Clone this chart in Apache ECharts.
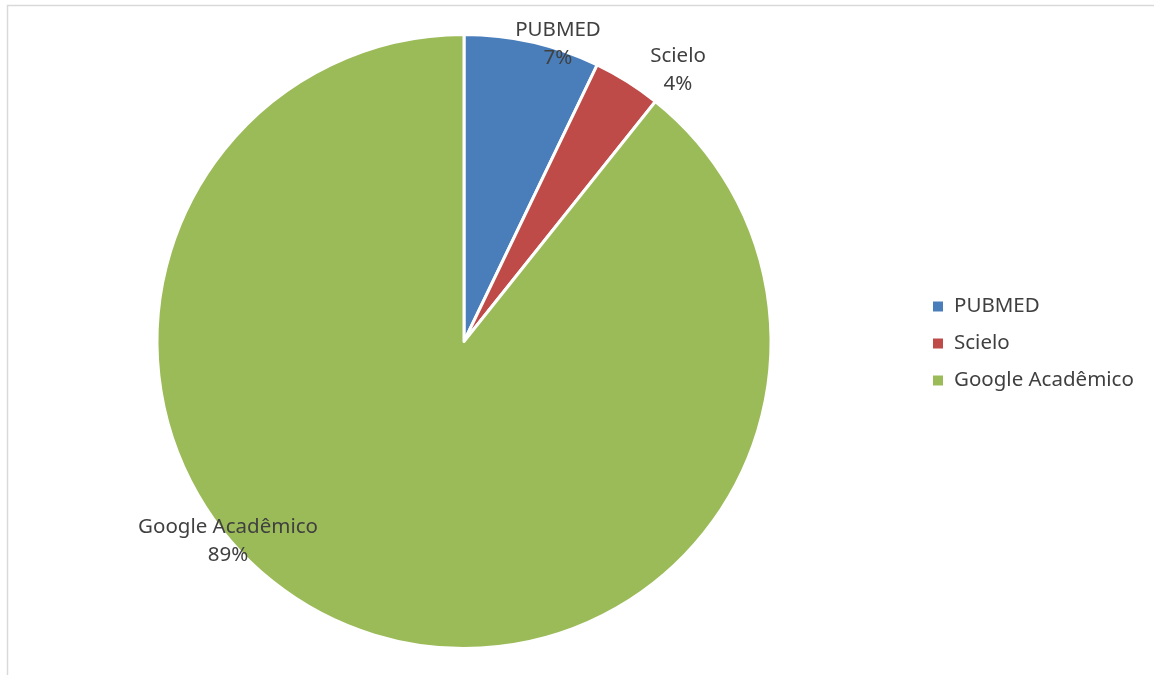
<!DOCTYPE html>
<html><head><meta charset="utf-8">
<script src="https://cdn.jsdelivr.net/npm/echarts@6/dist/echarts.min.js"></script>
<style>html,body{margin:0;padding:0;background:#fff}#c{width:1154px;height:675px}</style>
</head><body><div id="c"></div>
<script>
const categories = ['PUBMED', 'Scielo', 'Google Acadêmico'];
const values = [8, 4, 100];
const colors = ['#4A7EBB', '#BE4B48', '#9BBB59'];
const labelPos = [[558, 44], [678, 70], [228, 541]];

const chart = echarts.init(document.getElementById('c'));
const total = values.reduce((a, b) => a + b, 0);
chart.setOption({
  backgroundColor: '#fff',
  animation: false,
  graphic: [{
    type: 'rect', shape: {x: 7.5, y: 5.5, width: 1160, height: 680},
    style: {fill: 'none', stroke: '#d9d9d9', lineWidth: 1.5}, silent: true, z: -1
  }],
  legend: {
    orient: 'vertical', left: 926, top: 291,
    itemWidth: 12, itemHeight: 12, itemGap: 16, icon: 'rect',
    textStyle: {fontFamily: 'Noto Sans', fontSize: 20.5, color: '#404040', padding: [0, 0, 0, 5]},
    data: categories
  },
  series: [{
    type: 'pie', center: [464, 341.5], radius: 307, startAngle: 90, clockwise: true,
    itemStyle: {borderColor: '#fff', borderWidth: 3},
    label: {
      show: true, position: 'outside', fontFamily: 'Noto Sans', fontSize: 20.5, color: '#404040',
      lineHeight: 28, align: 'center',
      formatter: p => p.name + '\n' + Math.round(p.value / total * 100) + '%'
    },
    labelLine: {show: false},
    labelLayout: p => ({x: labelPos[p.dataIndex][0], y: labelPos[p.dataIndex][1], align: 'center', verticalAlign: 'middle'}),
    emphasis: {disabled: true},
    data: categories.map((c, i) => ({name: c, value: values[i], itemStyle: {color: colors[i]}}))
  }]
});
</script></body></html>
